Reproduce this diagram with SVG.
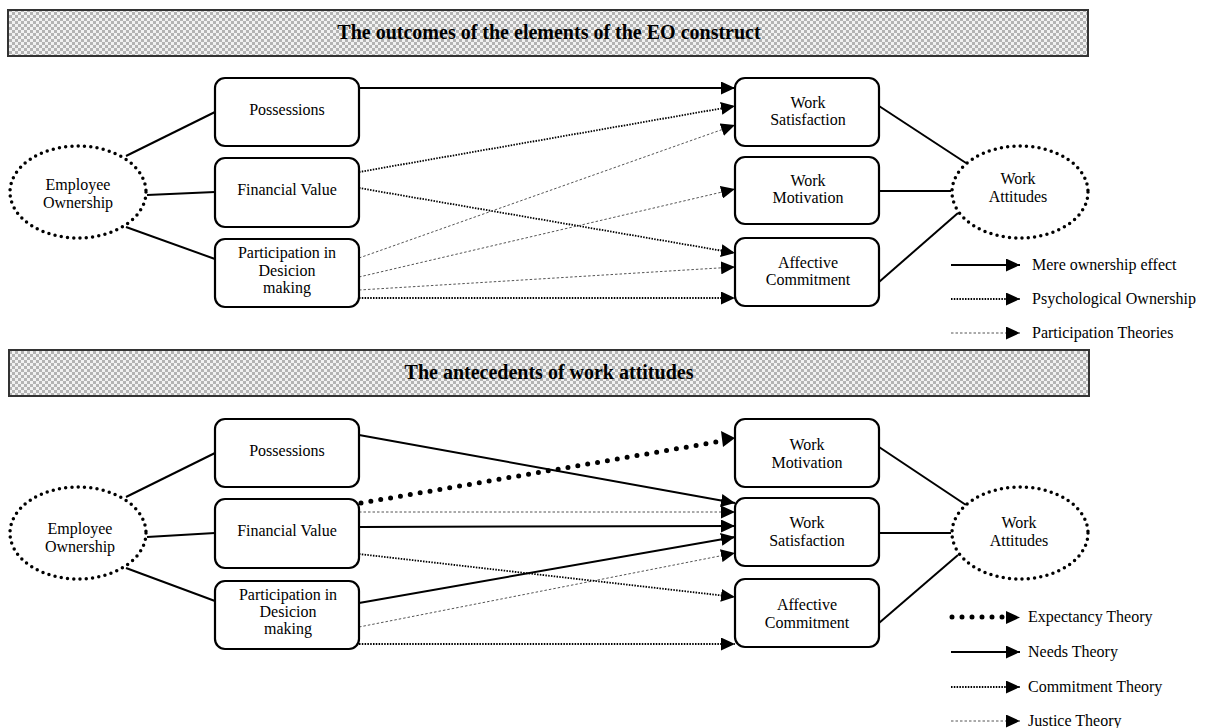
<svg xmlns="http://www.w3.org/2000/svg" width="1207" height="728" viewBox="0 0 1207 728">
<style>
text{font-family:"Liberation Serif","Times New Roman",serif;font-size:16px;fill:#000;text-anchor:middle}
.title{font-size:20px;font-weight:bold}
.leg{text-anchor:start}
.box{fill:#fff;stroke:#000;stroke-width:2.2}
.ell{fill:#fff;stroke:#000;stroke-width:3.5;stroke-dasharray:0 6.3;stroke-linecap:round}
.banner{fill:url(#chk);stroke:#333;stroke-width:2}
.solid{stroke:#000;stroke-width:2;fill:none}
.link{stroke:#000;stroke-width:2;fill:none}
.dot{stroke:#000;stroke-width:1.8;stroke-dasharray:1.5 1.3;fill:none}
.dash{stroke:#555;stroke-width:1;stroke-dasharray:2.5 2;fill:none}
.bigdot{stroke:#000;stroke-width:5;stroke-dasharray:0 10;stroke-linecap:round;fill:none}
.arr{marker-end:url(#ah)}
</style>
<defs>
<pattern id="chk" width="6" height="6" patternUnits="userSpaceOnUse">
<rect width="6" height="6" fill="#f2f2f2"/>
<rect width="3" height="3" fill="#b4b4b4"/>
<rect x="3" y="3" width="3" height="3" fill="#b4b4b4"/>
</pattern>
<marker id="ah" markerUnits="userSpaceOnUse" markerWidth="14" markerHeight="13" refX="14" refY="6.5" orient="auto" viewBox="0 0 14 13">
<path d="M0,0 L14,6.5 L0,13 z" fill="#000"/>
</marker>
</defs>

<!-- Banners -->
<g id="banner1">
<rect class="banner" x="8" y="10" width="1080" height="46"/>
<text class="title" x="549" y="39">The outcomes of the elements of the EO construct</text>
</g>
<g id="banner2">
<rect class="banner" x="9" y="350" width="1080" height="46"/>
<text class="title" x="549" y="379">The antecedents of work attitudes</text>
</g>

<!-- Connectors -->
<g id="connectors">
<!-- top: ellipse links -->
<line class="link" x1="126" y1="156" x2="215" y2="112"/>
<line class="link" x1="147" y1="195" x2="215" y2="192"/>
<line class="link" x1="126" y1="227" x2="215" y2="259"/>
<line class="link" x1="879" y1="106" x2="966" y2="163"/>
<line class="link" x1="879" y1="191" x2="951" y2="191"/>
<line class="link" x1="879" y1="282" x2="958" y2="213"/>
<!-- top: arrows -->
<line class="solid arr" x1="359" y1="88" x2="735" y2="88"/>
<line class="dot arr" x1="359" y1="172" x2="735" y2="106"/>
<line class="dot arr" x1="359" y1="188" x2="735" y2="253"/>
<line class="dash arr" x1="359" y1="258" x2="735" y2="125"/>
<line class="dash arr" x1="359" y1="277" x2="735" y2="189"/>
<line class="dash arr" x1="359" y1="290" x2="735" y2="267"/>
<line class="dot arr" x1="359" y1="298" x2="735" y2="298"/>
<!-- bottom: ellipse links -->
<line class="link" x1="126" y1="497" x2="215" y2="453"/>
<line class="link" x1="147" y1="537" x2="215" y2="533"/>
<line class="link" x1="126" y1="568" x2="215" y2="601"/>
<line class="link" x1="879" y1="447" x2="966" y2="505"/>
<line class="link" x1="879" y1="533" x2="951" y2="533"/>
<line class="link" x1="879" y1="623" x2="958" y2="555"/>
<!-- bottom: arrows -->
<line class="bigdot" x1="361" y1="503" x2="722" y2="441"/>
<path d="M721,431 L735,438 L723,447 z" fill="#000"/>
<line class="solid arr" x1="359" y1="435" x2="735" y2="503"/>
<line class="dash arr" x1="359" y1="512" x2="735" y2="512"/>
<line class="solid arr" x1="359" y1="527" x2="735" y2="526"/>
<line class="solid arr" x1="359" y1="603" x2="735" y2="537"/>
<line class="dash arr" x1="359" y1="627" x2="735" y2="553"/>
<line class="dot arr" x1="359" y1="554" x2="735" y2="597"/>
<line class="dot arr" x1="359" y1="644" x2="735" y2="644"/>
</g>

<!-- Top section nodes -->
<g id="eo1"><ellipse class="ell" cx="78" cy="192" rx="68" ry="46"/><text x="78" y="190">Employee</text><text x="78" y="208">Ownership</text></g>
<g id="poss1"><rect class="box" x="215" y="78" width="144" height="68" rx="10"/><text x="287" y="115">Possessions</text></g>
<g id="fin1"><rect class="box" x="215" y="158" width="144" height="69" rx="10"/><text x="287" y="195">Financial Value</text></g>
<g id="part1"><rect class="box" x="215" y="239" width="144" height="68" rx="10"/><text x="287" y="258">Participation in</text><text x="287" y="276">Desicion</text><text x="287" y="293">making</text></g>
<g id="ws1"><rect class="box" x="735" y="78" width="144" height="68" rx="10"/><text x="808" y="108">Work</text><text x="808" y="125">Satisfaction</text></g>
<g id="wm1"><rect class="box" x="735" y="157" width="144" height="67" rx="10"/><text x="808" y="186">Work</text><text x="808" y="203">Motivation</text></g>
<g id="ac1"><rect class="box" x="735" y="238" width="144" height="68" rx="10"/><text x="808" y="268">Affective</text><text x="808" y="285">Commitment</text></g>
<g id="wa1"><ellipse class="ell" cx="1020" cy="192" rx="68" ry="46"/><text x="1018" y="184">Work</text><text x="1018" y="202">Attitudes</text></g>

<!-- Bottom section nodes -->
<g id="eo2"><ellipse class="ell" cx="78" cy="533" rx="68" ry="46"/><text x="80" y="534">Employee</text><text x="80" y="552">Ownership</text></g>
<g id="poss2"><rect class="box" x="215" y="419" width="144" height="68" rx="10"/><text x="287" y="456">Possessions</text></g>
<g id="fin2"><rect class="box" x="215" y="499" width="144" height="69" rx="10"/><text x="287" y="536">Financial Value</text></g>
<g id="part2"><rect class="box" x="215" y="581" width="144" height="68" rx="10"/><text x="288" y="600">Participation in</text><text x="288" y="617">Desicion</text><text x="288" y="634">making</text></g>
<g id="wm2"><rect class="box" x="735" y="419" width="144" height="68" rx="10"/><text x="807" y="450">Work</text><text x="807" y="468">Motivation</text></g>
<g id="ws2"><rect class="box" x="735" y="498" width="144" height="68" rx="10"/><text x="807" y="528">Work</text><text x="807" y="546">Satisfaction</text></g>
<g id="ac2"><rect class="box" x="735" y="579" width="144" height="68" rx="10"/><text x="807" y="610">Affective</text><text x="807" y="628">Commitment</text></g>
<g id="wa2"><ellipse class="ell" cx="1020" cy="533" rx="68" ry="46"/><text x="1019" y="528">Work</text><text x="1019" y="546">Attitudes</text></g>

<!-- Legends -->
<g id="legend1">
<line class="solid arr" x1="951" y1="265" x2="1020" y2="265"/><text class="leg" x="1032" y="270">Mere ownership effect</text>
<line class="dot arr" x1="951" y1="299" x2="1020" y2="299"/><text class="leg" x="1032" y="304">Psychological Ownership</text>
<line class="dash arr" x1="951" y1="333" x2="1020" y2="333"/><text class="leg" x="1032" y="338">Participation Theories</text>
</g>
<g id="legend2">
<line class="bigdot" x1="952" y1="617" x2="1008" y2="617"/><path d="M1006,611 L1020,617.5 L1006,624 z" fill="#000"/><text class="leg" x="1028" y="622">Expectancy Theory</text>
<line class="solid arr" x1="951" y1="652" x2="1020" y2="652"/><text class="leg" x="1028" y="657">Needs Theory</text>
<line class="dot arr" x1="951" y1="687" x2="1020" y2="687"/><text class="leg" x="1028" y="692">Commitment Theory</text>
<line class="dash arr" x1="951" y1="721" x2="1020" y2="721"/><text class="leg" x="1028" y="726">Justice Theory</text>
</g>
</svg>
